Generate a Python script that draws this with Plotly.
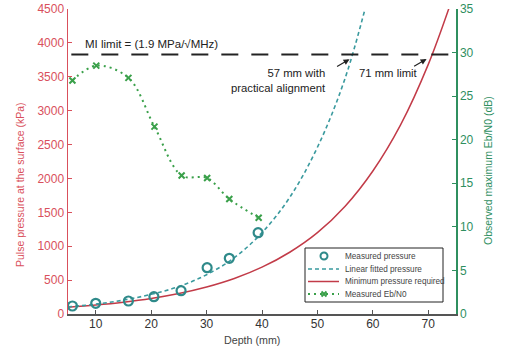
import plotly.graph_objects as go

# Measured pressure (circles)
meas_depth = [5.8, 10.0, 15.9, 20.5, 25.4, 30.1, 34.1, 39.3]
meas_pressure = [118, 158, 192, 255, 344, 683, 822, 1200]

# Linear fitted pressure (dashed teal curve)
fit_depth = [5, 10, 15, 20, 25, 30, 35, 40, 45, 50, 55, 60]
fit_pressure = [105, 145, 205, 290, 405, 580, 830, 1200, 1720, 2460, 3480, 4950]

# Minimum pressure required (solid red curve)
min_depth = [5, 10, 15, 20, 25, 30, 35, 40, 45, 50, 55, 60, 65, 70, 74]
min_pressure = [100, 132, 174, 229, 302, 398, 524, 691, 911, 1200, 1590, 2110, 2790, 3683, 4576]

# Measured Eb/N0 (right axis)
eb_depth = [5.8, 10.1, 15.9, 20.6, 25.5, 30.1, 34.1, 39.4]
eb_n0 = [26.8, 28.5, 27.1, 21.5, 15.9, 15.6, 13.2, 11.05]

mi_limit = 3830

x_ticks = [10, 20, 30, 40, 50, 60, 70]

legend_labels = ["Measured pressure", "Linear fitted pressure",
                 "Minimum pressure required", "Measured Eb/N0"]

RED = "#d9505c"
RED_LINE = "#c23b48"
GREEN_AX = "#2f8f5f"
TEAL = "#2f8a8a"
TEAL_DASH = "#3a9a9e"
GREEN = "#3aa04a"
FONT = "Liberation Sans, Arial, sans-serif"

# plot area geometry (px)
L, R, T, B = 68, 51, 9, 39
W, H = 507, 353
PW, PH = W - L - R, H - T - B


def px(xp):
    return (xp - L) / PW


def py(yp):
    return (H - B - yp) / PH


fig = go.Figure()

fig.add_trace(go.Scatter(
    x=min_depth, y=min_pressure, mode="lines", line_shape="spline",
    name=legend_labels[2], line=dict(color=RED_LINE, width=1.5)))

fig.add_trace(go.Scatter(
    x=fit_depth, y=fit_pressure, mode="lines", line_shape="spline",
    name=legend_labels[1], line=dict(color=TEAL_DASH, width=1.6, dash="4px,3px")))

fig.add_trace(go.Scatter(
    x=meas_depth, y=meas_pressure, mode="markers", name=legend_labels[0],
    marker=dict(symbol="circle-open", size=9, color=TEAL, line=dict(width=2.2, color=TEAL))))

fig.add_trace(go.Scatter(
    x=eb_depth, y=eb_n0, mode="lines+markers", line_shape="spline",
    name=legend_labels[3], yaxis="y2",
    line=dict(color=GREEN, width=2, dash="2px,4px", smoothing=1.0),
    marker=dict(symbol="x-thin-open", size=6, color=GREEN, line=dict(width=2, color=GREEN))))

shapes = []
# MI limit line
shapes.append(dict(type="line", xref="x", yref="y", x0=5.6, x1=75, y0=mi_limit, y1=mi_limit,
                   line=dict(color="#222222", width=2, dash="17px,13px")))

# Manual legend box
shapes.append(dict(type="rect", xref="paper", yref="paper",
                   x0=px(305), x1=px(443), y0=py(302), y1=py(248),
                   line=dict(color="#222222", width=1), fillcolor="white", layer="above"))
rows = [256, 269, 281.5, 294]
sx0, sx1, smid, tx = 308, 339, 324, 343
# row 1: circle marker
shapes.append(dict(type="circle", xref="paper", yref="paper", xsizemode="pixel", ysizemode="pixel",
                   xanchor=px(smid), yanchor=py(rows[0]), x0=-3.5, x1=3.5, y0=-3.5, y1=3.5,
                   line=dict(color=TEAL, width=2), layer="above"))
# row 2: dashed teal
shapes.append(dict(type="line", xref="paper", yref="paper", x0=px(sx0), x1=px(sx1),
                   y0=py(rows[1]), y1=py(rows[1]),
                   line=dict(color=TEAL_DASH, width=1.6, dash="4px,3px"), layer="above"))
# row 3: red solid
shapes.append(dict(type="line", xref="paper", yref="paper", x0=px(sx0), x1=px(sx1),
                   y0=py(rows[2]), y1=py(rows[2]),
                   line=dict(color=RED_LINE, width=1.5), layer="above"))
# row 4: green dotted + x marker
shapes.append(dict(type="line", xref="paper", yref="paper", x0=px(sx0), x1=px(sx1),
                   y0=py(rows[3]), y1=py(rows[3]),
                   line=dict(color=GREEN, width=2, dash="2px,4px"), layer="above"))
for d in (1, -1):
    shapes.append(dict(type="line", xref="paper", yref="paper", xsizemode="pixel", ysizemode="pixel",
                       xanchor=px(smid), yanchor=py(rows[3]), x0=-2.5, x1=2.5, y0=-2.5 * d, y1=2.5 * d,
                       line=dict(color=GREEN, width=2), layer="above"))

annotations = [
    dict(x=20.0, y=3984, xref="x", yref="y", text="MI limit = (1.9 MPa/√MHz)",
         showarrow=False, font=dict(size=11.5, color="#222222", family=FONT)),
    dict(x=51.9, y=3438, xref="x", yref="y", text="57 mm with<br>practical alignment",
         showarrow=False, xanchor="right", align="right",
         font=dict(size=11.3, color="#222222", family=FONT)),
    dict(x=62.9, y=3556, xref="x", yref="y", text="71 mm limit",
         showarrow=False, font=dict(size=11.3, color="#222222", family=FONT)),
    dict(x=55.8, y=3758, xref="x", yref="y", text="", showarrow=True,
         ax=-14, ay=8, arrowhead=2, arrowsize=1, arrowwidth=1.2, arrowcolor="#222222"),
    dict(x=69.7, y=3762, xref="x", yref="y", text="", showarrow=True,
         ax=-14, ay=8, arrowhead=2, arrowsize=1, arrowwidth=1.2, arrowcolor="#222222"),
    # axis titles
    dict(x=px(20), y=py(185), xref="paper", yref="paper", text="Pulse pressure at the surface (kPa)",
         textangle=-90, showarrow=False, xanchor="center", yanchor="middle",
         font=dict(size=10.5, color=RED, family=FONT)),
    dict(x=px(488), y=py(171), xref="paper", yref="paper", text="Observed maximum Eb/N0 (dB)",
         textangle=-90, showarrow=False, xanchor="center", yanchor="middle",
         font=dict(size=10.5, color=GREEN_AX, family=FONT)),
    dict(x=px(252), y=py(340), xref="paper", yref="paper", text="Depth (mm)",
         showarrow=False, xanchor="center", yanchor="middle",
         font=dict(size=10.7, color="#444444", family=FONT)),
]
for lab, r in zip(legend_labels, rows):
    annotations.append(dict(x=px(tx), y=py(r), xref="paper", yref="paper", text=lab,
                            showarrow=False, xanchor="left", yanchor="middle",
                            font=dict(size=8.2, color="#444444", family=FONT)))

fig.update_layout(
    width=W, height=H,
    margin=dict(l=L, r=R, t=T, b=B),
    paper_bgcolor="white", plot_bgcolor="white",
    font=dict(family=FONT, size=12, color="#333333"),
    showlegend=False, hovermode=False,
    shapes=shapes,
    annotations=annotations,
    xaxis=dict(range=[5, 75], tickvals=x_ticks, showgrid=False, zeroline=False,
               showline=True, linecolor="#555555", linewidth=2,
               ticks="inside", ticklen=4, tickcolor="#555555",
               tickfont=dict(size=12, color="#333333"), ticklabelstandoff=-2,
               automargin=False),
    yaxis=dict(range=[0, 4500], dtick=500, showgrid=False, zeroline=False,
               showline=True, linecolor=RED, linewidth=1.5,
               ticks="inside", ticklen=4, tickcolor=RED,
               tickfont=dict(size=12, color=RED),
               automargin=False),
    yaxis2=dict(range=[0, 35], dtick=5, overlaying="y", side="right", anchor="x",
                showgrid=False, zeroline=False,
                showline=True, linecolor=GREEN_AX, linewidth=1.5,
                ticks="inside", ticklen=4, tickcolor=GREEN_AX,
                tickfont=dict(size=12, color=GREEN_AX),
                automargin=False),
)

fig.write_html("out.html", config={"displayModeBar": False, "staticPlot": True},
               post_script="document.body.style.margin='0';")
